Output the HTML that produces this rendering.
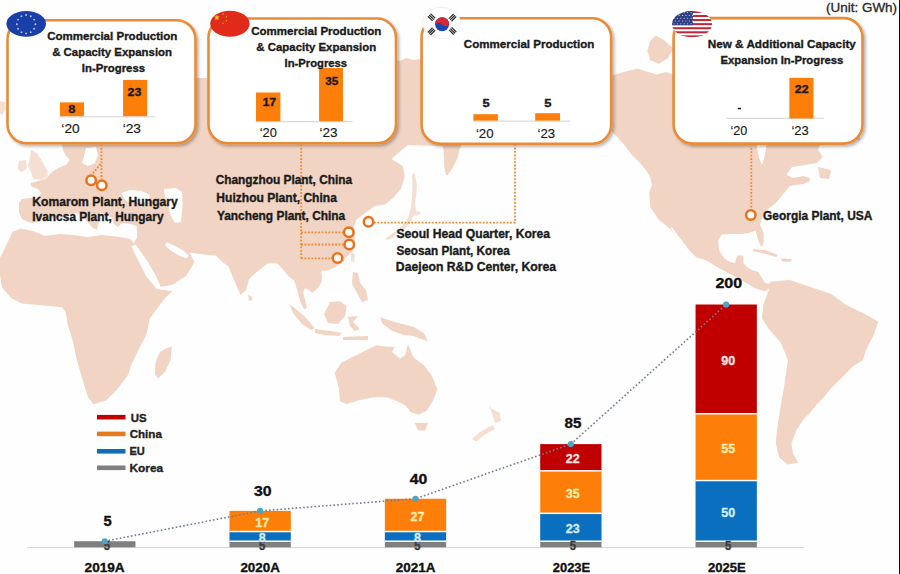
<!DOCTYPE html>
<html><head><meta charset="utf-8"><style>
html,body{margin:0;padding:0;background:#fff;}
#w{position:relative;width:900px;height:574px;overflow:hidden;background:#fefefe;}
svg{position:absolute;left:0;top:0;font-family:"Liberation Sans",Arial,sans-serif;}
#edge{position:absolute;right:0;top:0;width:1px;height:574px;background:#111;}
</style></head><body><div id="w">
<svg width="900" height="574" viewBox="0 0 900 574">
<defs><filter id="sh" x="-10%" y="-10%" width="125%" height="130%"><feGaussianBlur in="SourceAlpha" stdDeviation="1.6"/><feOffset dx="1.8" dy="1.8" result="b"/><feFlood flood-color="#000" flood-opacity="0.28"/><feComposite in2="b" operator="in"/><feMerge><feMergeNode/><feMergeNode in="SourceGraphic"/></feMerge></filter></defs>
<path d="M46.5,178 L52,172 L58,168 L66,165 L70,160 L66,156 L63,150 L62,143 L62,120 L196,120 L196,78 L208,78 L208,60 L396,60 L400,61 L406,58 L414,60 L421,59 L421,100 L470,100 L470,140 L462,140 L461,146 L459.3,150 L457.6,158 L452.6,168 L447.7,174.7 L446,175 L444.4,168 L443.5,150 L442.7,146 L408,145 L398,153 L391.5,159 L398,163 L403,166.4 L404.7,176.4 L401.4,188 L393,198 L384.8,204.5 L374.9,206 L363.1,214.4 L356.6,219.6 L354,226.1 L354.6,234 L355.3,243.1 L352.7,251 L346.1,257.5 L342.2,262.7 L335.7,266.7 L327.8,270.6 L321,271 L322,276 L321.7,282 L317,289 L312,293 L309,290 L305,288 L303,292 L305,300 L307,308 L304,309 L300.7,302.7 L297.6,291.7 L294.4,280.8 L288.2,276 L283.4,269.8 L277.2,263.5 L267.8,263.5 L261.5,268.2 L253.7,274.5 L249,279.2 L245.8,290.2 L240.5,295 L236.4,285.5 L231.7,274.5 L228.6,266.6 L222.3,262 L216,255.7 L200,254 L189.4,252.5 L194.6,262 L186,276 L172,285 L160,288 L157,285 L153.6,272.5 L147,262 L140,253 L135.3,247 L133,244 L137,238 L137,226 L130,224 L122,223 L118,227 L114,224 L112,218 L106,215 L104,214 L100,212 L99,222 L97,230 L93,228 L86,220 L80,214 L75,213 L70,215 L62,218 L55,217 L50,219 L45,219 L40,221 L34,223 L28,222 L22,219 L19,212 L19,203 L22,199 L30,198 L38,199 L41,193 L38,189 L31,186 L31,183 L38,181 L44,179.5Z M12.5,232 L21,228.5 L33,231 L45,236 L60,234 L73,235 L88,237 L102,235 L120,237 L130,239 L133,242 L135,251 L146.3,276 L157.2,289 L165,290 L172.3,291.3 L166,297 L160.9,303.6 L149.9,318.2 L146.3,334.7 L138.9,349.3 L131.6,364 L128,374.9 L117,389.5 L106,400.5 L93.2,404.2 L87.8,396.8 L82.3,378.6 L76.8,360.3 L73.1,342 L67.6,323.7 L65.8,312.8 L62.2,307.3 L43.9,305.4 L21.9,303.6 L11,298.1 L1.8,287.2 L-2,261.6 L3.7,250.6Z M612,75.6 L623.8,72 L638,68.5 L645,71 L656.8,74.4 L666,72 L673,74.4 L680,70 L860,70 L860,140 L820,145 L818,150 L822.8,156.5 L817,163 L805,165 L792,167 L786.4,174.7 L793,178 L803,176 L810,178 L809.5,181.4 L803,184 L789.7,186 L781.4,196.3 L776,203 L768,209 L763.2,214.5 L760,224.4 L763.7,233.5 L763.5,242 L762.2,246.9 L759.5,244 L757,236 L755.9,230.4 L748,233 L741,234 L730,234 L722,234.5 L718.2,240 L719,250 L724,258 L729.2,261.8 L735,263 L737,255.5 L743.3,255.5 L743.3,263.3 L748,268 L752,270 L758,272 L762,278 L765,283 L770,283.7 L771,287 L765.3,291.6 L755.9,288.4 L744.9,282.2 L733.9,275.9 L721.4,269.6 L705.7,260.2 L696.2,257.2 L690,251 L687.9,248.8 L679.5,238.3 L669,227.9 L658.6,219.5 L650.2,207 L649.2,192.3 L652,185 L650.2,177.2 L646,170 L638.7,161.6 L631.3,154.3 L625.1,145.9 L617.8,137.5 L611.5,131.3 L605,120 L605,78Z M768.7,290.4 L770.5,281.7 L789.6,280 L810.5,287 L831.4,294 L845.3,304.4 L866.2,314.8 L878.4,321.8 L873.2,335.7 L866.2,349.6 L862.8,360.1 L852.3,367 L841.9,377.5 L831.4,387.9 L822.7,398.4 L817.5,403.6 L810.5,412.3 L803.6,419.3 L796.6,429.7 L791.4,443.6 L793.1,454.1 L798.3,462.8 L787.9,464.5 L779.2,457.6 L775.7,443.6 L777.5,426.2 L780.9,405.3 L784.4,384.5 L787.9,360.1 L780.9,342.7 L768.7,328.7 L761.8,318.3 L763.5,304.4Z M336,370.7 L341.3,362.7 L357.3,354.7 L365.3,350.7 L376,345.3 L386.7,346.7 L394.7,346.7 L392,352 L400,358.7 L405.3,354.7 L408,344 L413.3,357.3 L424,365.3 L432,376 L437.3,389.3 L433.3,400 L426.7,410.7 L418.7,414.7 L410.7,412 L405.3,405.3 L397.3,401.3 L386.7,397.3 L373.3,397.3 L360,400 L346.7,404 L340,401.3 L338.7,386.7 L334.7,373.3Z" fill="#f1d4c3"/>
<path d="M121,193 L130,190 L142,191 L150,195 L148,202 L138,203 L126,201Z M164,189 L176,188 L182,192 L182.5,205 L181,222 L175,223 L170,214 L168,204 L165,197Z M166.7,242.3 L175,246 L184,251 L189,256 L186,258.5 L178,255 L170,250 L165,245Z M131.5,246 L136,245 L148,262 L156,276 L161,287.5 L157,289 L146,276 L134,252Z M157,287.5 L172,285 L176,289 L172,290.5 L160,289.5Z M86,148 L96,147 L98,155 L95,163 L88,166 L82,163 L84,156Z M756.6,145 L766.5,145 L765,155 L762,165 L759,158Z M670.5,228 L672,227.5 L687,247.5 L686,248.5Z" fill="#fff"/>
<path d="M172,346.5 L170.5,360 L165,372 L158,378.5 L155,374 L155.5,362 L160,352 L167,348Z M248,295 L252,297 L252.6,300 L249,301Z M353,272 L358,273 L360,283 L366,290 L368,300 L362,302 L357,293 L352,284Z M330,302 L340,301.3 L346.7,306 L345,316 L338,324 L328,323 L324,314Z M289.3,304 L296,309 L305,317 L314.7,328 L311,330 L302,324 L293,313Z M314.7,329 L330,331 L341.7,333 L339,336 L325,335 L315,333Z M348,317 L358,316 L353,322 L360,329 L355,331 L350,326Z M343,337 L368,336 L368,340 L343,340Z M380,317.3 L397.3,322.7 L413.3,326.7 L424,333.3 L428,341.3 L413.3,336 L402.7,334.7 L392,330.7 L382.7,324Z M414.7,423 L428,422.7 L425,430.7 L418,430Z M655.6,35.6 L664,40 L673.2,48.5 L668,58 L659,63.8 L650,60 L647.4,50.9 L650,41Z M818,167 L831,170 L829,179 L820,178Z M752.7,249.2 L765,250 L777.8,255 L776,257 L764,253.5 L753,251Z M781,258.6 L792,259 L791,261.8 L782,261.5Z" fill="#f1d4c3"/>
<path d="M31,150 L37,153 L42,161 L47,170 L48,176 L42,180 L33,179 L31,172 L28,166 L30,158Z M19,161 L26,160 L27,168 L22,172.5 L17.5,169Z M0,101 L5,102 L5.5,110 L2,115 L0,114Z M412,174 L415,174 L417,186 L416,197 L415,203 L416,211 L421,212 L419,215 L413,216 L411,222 L405,228 L398,233 L392,238 L387,240.5 L386,238 L392,234 L399,229 L405,223 L409,216 L411,207 L412,198 L412.5,186Z M488.8,405.6 L492,409 L499.8,413 L501,421 L495,423 L493.7,418 L491,411Z M492.4,425 L495,428.8 L486,434 L476,441.5 L472,439 L480,432Z M351,253 L354.5,253 L354.5,262 L351,261Z" fill="#f1d4c3" opacity="0.75"/>
<rect x="7.5" y="20.2" width="188" height="123.1" rx="19" ry="19" fill="#fff" stroke="#e98c38" stroke-width="2.6" filter="url(#sh)"/>
<rect x="208.5" y="18.5" width="187.5" height="124.8" rx="19" ry="19" fill="#fff" stroke="#e98c38" stroke-width="2.6" filter="url(#sh)"/>
<rect x="421.6" y="18.2" width="189.6" height="125.6" rx="19" ry="19" fill="#fff" stroke="#e98c38" stroke-width="2.6" filter="url(#sh)"/>
<rect x="673.6" y="18.1" width="188.9" height="125.5" rx="19" ry="19" fill="#fff" stroke="#e98c38" stroke-width="2.6" filter="url(#sh)"/>
<ellipse cx="26.2" cy="23.8" rx="19.8" ry="12.9" fill="#1a3fa8"/>
<circle cx="26.1" cy="15" r="0.95" fill="#b8c8f0"/>
<circle cx="30.75" cy="16.23" r="0.95" fill="#b8c8f0"/>
<circle cx="34.15" cy="19.6" r="0.95" fill="#b8c8f0"/>
<circle cx="35.4" cy="24.2" r="0.95" fill="#b8c8f0"/>
<circle cx="34.15" cy="28.8" r="0.95" fill="#b8c8f0"/>
<circle cx="30.75" cy="32.17" r="0.95" fill="#b8c8f0"/>
<circle cx="26.1" cy="33.4" r="0.95" fill="#b8c8f0"/>
<circle cx="21.45" cy="32.17" r="0.95" fill="#b8c8f0"/>
<circle cx="18.05" cy="28.8" r="0.95" fill="#b8c8f0"/>
<circle cx="16.8" cy="24.2" r="0.95" fill="#b8c8f0"/>
<circle cx="18.05" cy="19.6" r="0.95" fill="#b8c8f0"/>
<circle cx="21.45" cy="16.23" r="0.95" fill="#b8c8f0"/>
<ellipse cx="229.9" cy="23.8" rx="19.7" ry="13" fill="#e02a1a"/>
<path d="M216.9,14.4 L217.65,16.56 L219.94,16.61 L218.12,18 L218.78,20.19 L216.9,18.88 L215.02,20.19 L215.68,18 L213.86,16.61 L216.15,16.56Z M223,12.9 L223.26,13.64 L224.05,13.66 L223.42,14.14 L223.65,14.89 L223,14.44 L222.35,14.89 L222.58,14.14 L221.95,13.66 L222.74,13.64Z M226.4,15.7 L226.66,16.44 L227.45,16.46 L226.82,16.94 L227.05,17.69 L226.4,17.24 L225.75,17.69 L225.98,16.94 L225.35,16.46 L226.14,16.44Z M226.4,19.5 L226.66,20.24 L227.45,20.26 L226.82,20.74 L227.05,21.49 L226.4,21.04 L225.75,21.49 L225.98,20.74 L225.35,20.26 L226.14,20.24Z M223,22.3 L223.26,23.04 L224.05,23.06 L223.42,23.54 L223.65,24.29 L223,23.84 L222.35,24.29 L222.58,23.54 L221.95,23.06 L222.74,23.04Z" fill="#f6c81e"/>
<ellipse cx="441.5" cy="23" rx="19" ry="15.6" fill="#fff"/>
<circle cx="442.1" cy="24.3" r="7" fill="#1f48a8"/>
<path d="M435.1,24.3 A7,7 0 0 1 449.1,24.3 A3.5,1.6 0 0 1 442.1,24.3 A3.5,1.6 0 0 0 435.1,24.3Z" fill="#d42a3c"/>
<ellipse cx="441.5" cy="23" rx="19" ry="15.6" fill="none" stroke="#e4e4e4" stroke-width="0.6"/>
<g transform="rotate(45 431.5 17.3)"><rect x="428.2" y="14.8" width="6.6" height="1.3" fill="#2f342f"/><rect x="428.2" y="16.6" width="6.6" height="1.3" fill="#2f342f"/><rect x="428.2" y="18.4" width="6.6" height="1.3" fill="#2f342f"/></g>
<g transform="rotate(-45 452.6 17.6)"><rect x="449.3" y="15.1" width="6.6" height="1.3" fill="#2f342f"/><rect x="449.3" y="16.9" width="6.6" height="1.3" fill="#2f342f"/><rect x="449.3" y="18.7" width="6.6" height="1.3" fill="#2f342f"/></g>
<g transform="rotate(-45 431.5 31.4)"><rect x="428.2" y="28.9" width="6.6" height="1.3" fill="#2f342f"/><rect x="428.2" y="30.7" width="6.6" height="1.3" fill="#2f342f"/><rect x="428.2" y="32.5" width="6.6" height="1.3" fill="#2f342f"/></g>
<g transform="rotate(45 452.6 31)"><rect x="449.3" y="28.5" width="6.6" height="1.3" fill="#2f342f"/><rect x="449.3" y="30.3" width="6.6" height="1.3" fill="#2f342f"/><rect x="449.3" y="32.1" width="6.6" height="1.3" fill="#2f342f"/></g>
<clipPath id="usclip"><ellipse cx="692.1" cy="24.1" rx="20" ry="13.2"/></clipPath>
<g clip-path="url(#usclip)"><rect x="672" y="10.9" width="41" height="26.5" fill="#fff"/><rect x="672" y="10.9" width="41" height="2.04" fill="#c0283a"/><rect x="672" y="14.98" width="41" height="2.04" fill="#c0283a"/><rect x="672" y="19.05" width="41" height="2.04" fill="#c0283a"/><rect x="672" y="23.13" width="41" height="2.04" fill="#c0283a"/><rect x="672" y="27.21" width="41" height="2.04" fill="#c0283a"/><rect x="672" y="31.28" width="41" height="2.04" fill="#c0283a"/><rect x="672" y="35.36" width="41" height="2.04" fill="#c0283a"/><rect x="672" y="10.9" width="20.8" height="14.3" fill="#2e3f86"/><circle cx="674" cy="12.6" r="0.55" fill="#dfe3f2"/><circle cx="677.4" cy="12.6" r="0.55" fill="#dfe3f2"/><circle cx="680.8" cy="12.6" r="0.55" fill="#dfe3f2"/><circle cx="684.2" cy="12.6" r="0.55" fill="#dfe3f2"/><circle cx="687.6" cy="12.6" r="0.55" fill="#dfe3f2"/><circle cx="691" cy="12.6" r="0.55" fill="#dfe3f2"/><circle cx="675.7" cy="15.4" r="0.55" fill="#dfe3f2"/><circle cx="679.1" cy="15.4" r="0.55" fill="#dfe3f2"/><circle cx="682.5" cy="15.4" r="0.55" fill="#dfe3f2"/><circle cx="685.9" cy="15.4" r="0.55" fill="#dfe3f2"/><circle cx="689.3" cy="15.4" r="0.55" fill="#dfe3f2"/><circle cx="692.7" cy="15.4" r="0.55" fill="#dfe3f2"/><circle cx="674" cy="18.2" r="0.55" fill="#dfe3f2"/><circle cx="677.4" cy="18.2" r="0.55" fill="#dfe3f2"/><circle cx="680.8" cy="18.2" r="0.55" fill="#dfe3f2"/><circle cx="684.2" cy="18.2" r="0.55" fill="#dfe3f2"/><circle cx="687.6" cy="18.2" r="0.55" fill="#dfe3f2"/><circle cx="691" cy="18.2" r="0.55" fill="#dfe3f2"/><circle cx="675.7" cy="21" r="0.55" fill="#dfe3f2"/><circle cx="679.1" cy="21" r="0.55" fill="#dfe3f2"/><circle cx="682.5" cy="21" r="0.55" fill="#dfe3f2"/><circle cx="685.9" cy="21" r="0.55" fill="#dfe3f2"/><circle cx="689.3" cy="21" r="0.55" fill="#dfe3f2"/><circle cx="692.7" cy="21" r="0.55" fill="#dfe3f2"/><circle cx="674" cy="23.8" r="0.55" fill="#dfe3f2"/><circle cx="677.4" cy="23.8" r="0.55" fill="#dfe3f2"/><circle cx="680.8" cy="23.8" r="0.55" fill="#dfe3f2"/><circle cx="684.2" cy="23.8" r="0.55" fill="#dfe3f2"/><circle cx="687.6" cy="23.8" r="0.55" fill="#dfe3f2"/><circle cx="691" cy="23.8" r="0.55" fill="#dfe3f2"/></g>
<rect x="60" y="116.2" width="95" height="1.2" fill="#d9d9d9"/>
<rect x="256" y="121.1" width="96.6" height="1.2" fill="#d9d9d9"/>
<rect x="473" y="120.5" width="97" height="1.2" fill="#d9d9d9"/>
<rect x="726.7" y="117.7" width="97.2" height="1.2" fill="#d9d9d9"/>
<rect x="60" y="102.4" width="24" height="13.8" fill="#fd7e08"/>
<rect x="123.1" y="79.9" width="24.1" height="36.3" fill="#fd7e08"/>
<rect x="256" y="92.5" width="24.4" height="28.7" fill="#fd7e08"/>
<rect x="319.1" y="68" width="23.9" height="53.2" fill="#fd7e08"/>
<rect x="473.4" y="114.2" width="24.5" height="6.4" fill="#fd7e08"/>
<rect x="535.2" y="113.2" width="24.8" height="7.4" fill="#fd7e08"/>
<rect x="789.4" y="77.9" width="24.1" height="40.6" fill="#fd7e08"/>
<rect x="737.7" y="107.8" width="3.3" height="1.5" fill="#1a1a1a"/>
<line x1="101.5" y1="144.5" x2="101.5" y2="179" stroke="#ee8a30" stroke-width="1.8" stroke-dasharray="1.8 1.6"/>
<line x1="100.5" y1="164" x2="92" y2="174.5" stroke="#ee8a30" stroke-width="1.8" stroke-dasharray="1.8 1.6"/>
<line x1="301.2" y1="144.5" x2="301.2" y2="258.3" stroke="#ee8a30" stroke-width="1.8" stroke-dasharray="1.8 1.6"/>
<line x1="301.2" y1="232.3" x2="343.5" y2="232.3" stroke="#ee8a30" stroke-width="1.8" stroke-dasharray="1.8 1.6"/>
<line x1="301.2" y1="244.5" x2="344" y2="244.5" stroke="#ee8a30" stroke-width="1.8" stroke-dasharray="1.8 1.6"/>
<line x1="301.2" y1="258.3" x2="332" y2="258.3" stroke="#ee8a30" stroke-width="1.8" stroke-dasharray="1.8 1.6"/>
<path d="M374,222.6 L515,222.6 L515,144.5" fill="none" stroke="#ee8a30" stroke-width="1.8" stroke-dasharray="1.8 1.6"/>
<line x1="751.3" y1="144.5" x2="751.3" y2="209" stroke="#ee8a30" stroke-width="1.8" stroke-dasharray="1.8 1.6"/>
<circle cx="91.1" cy="180.3" r="4.75" fill="#fff" stroke="#e8731c" stroke-width="2.5"/>
<circle cx="101.8" cy="185.3" r="4.75" fill="#fff" stroke="#e8731c" stroke-width="2.5"/>
<circle cx="348.8" cy="232.3" r="4.75" fill="#fff" stroke="#e8731c" stroke-width="2.5"/>
<circle cx="349.3" cy="244.5" r="4.75" fill="#fff" stroke="#e8731c" stroke-width="2.5"/>
<circle cx="337.5" cy="258.1" r="4.75" fill="#fff" stroke="#e8731c" stroke-width="2.5"/>
<circle cx="368.5" cy="221.7" r="4.75" fill="#fff" stroke="#e8731c" stroke-width="2.5"/>
<circle cx="750.8" cy="215" r="4.75" fill="#fff" stroke="#e8731c" stroke-width="2.5"/>
<rect x="27" y="547" width="777.3" height="1.1" fill="#d9d9d9"/>
<rect x="74.15" y="541.23" width="61.3" height="6.07" fill="#7f7f7f"/>
<rect x="229.5" y="541.23" width="61.3" height="6.07" fill="#7f7f7f"/>
<rect x="229.5" y="531.52" width="61.3" height="9.71" fill="#0b6fc0"/>
<rect x="229.5" y="540.48" width="61.3" height="1.5" fill="#fff"/>
<rect x="229.5" y="510.88" width="61.3" height="20.64" fill="#fd7e08"/>
<rect x="229.5" y="530.77" width="61.3" height="1.5" fill="#fff"/>
<rect x="384.85" y="541.23" width="61.3" height="6.07" fill="#7f7f7f"/>
<rect x="384.85" y="531.52" width="61.3" height="9.71" fill="#0b6fc0"/>
<rect x="384.85" y="540.48" width="61.3" height="1.5" fill="#fff"/>
<rect x="384.85" y="498.74" width="61.3" height="32.78" fill="#fd7e08"/>
<rect x="384.85" y="530.77" width="61.3" height="1.5" fill="#fff"/>
<rect x="540.2" y="541.23" width="61.3" height="6.07" fill="#7f7f7f"/>
<rect x="540.2" y="513.31" width="61.3" height="27.92" fill="#0b6fc0"/>
<rect x="540.2" y="540.48" width="61.3" height="1.5" fill="#fff"/>
<rect x="540.2" y="470.82" width="61.3" height="42.49" fill="#fd7e08"/>
<rect x="540.2" y="512.56" width="61.3" height="1.5" fill="#fff"/>
<rect x="540.2" y="444.11" width="61.3" height="26.71" fill="#c00000"/>
<rect x="540.2" y="470.07" width="61.3" height="1.5" fill="#fff"/>
<rect x="695.55" y="541.23" width="61.3" height="6.07" fill="#7f7f7f"/>
<rect x="695.55" y="480.53" width="61.3" height="60.7" fill="#0b6fc0"/>
<rect x="695.55" y="540.48" width="61.3" height="1.5" fill="#fff"/>
<rect x="695.55" y="413.76" width="61.3" height="66.77" fill="#fd7e08"/>
<rect x="695.55" y="479.78" width="61.3" height="1.5" fill="#fff"/>
<rect x="695.55" y="304.5" width="61.3" height="109.26" fill="#c00000"/>
<rect x="695.55" y="413.01" width="61.3" height="1.5" fill="#fff"/>
<text x="106.8" y="549.96" font-size="12" font-weight="bold" fill="#3a3a3a" stroke="#3a3a3a" stroke-width="0.3" text-anchor="middle" transform="translate(106.8,0) scale(0.95,1) translate(-106.8,0)">5</text>
<text x="262.15" y="549.96" font-size="12" font-weight="bold" fill="#3a3a3a" stroke="#3a3a3a" stroke-width="0.3" text-anchor="middle" transform="translate(262.15,0) scale(0.95,1) translate(-262.15,0)">5</text>
<text x="262.15" y="542.07" font-size="13.2" font-weight="bold" fill="#d8f0ff" stroke="#d8f0ff" stroke-width="0.3" text-anchor="middle" transform="translate(262.15,0) scale(0.95,1) translate(-262.15,0)">8</text>
<text x="262.15" y="526.9" font-size="13.2" font-weight="bold" fill="#ffeeb0" stroke="#ffeeb0" stroke-width="0.3" text-anchor="middle" transform="translate(262.15,0) scale(0.95,1) translate(-262.15,0)">17</text>
<text x="417.5" y="549.96" font-size="12" font-weight="bold" fill="#3a3a3a" stroke="#3a3a3a" stroke-width="0.3" text-anchor="middle" transform="translate(417.5,0) scale(0.95,1) translate(-417.5,0)">5</text>
<text x="417.5" y="542.07" font-size="13.2" font-weight="bold" fill="#d8f0ff" stroke="#d8f0ff" stroke-width="0.3" text-anchor="middle" transform="translate(417.5,0) scale(0.95,1) translate(-417.5,0)">8</text>
<text x="417.5" y="520.83" font-size="13.2" font-weight="bold" fill="#ffeeb0" stroke="#ffeeb0" stroke-width="0.3" text-anchor="middle" transform="translate(417.5,0) scale(0.95,1) translate(-417.5,0)">27</text>
<text x="572.85" y="549.96" font-size="12" font-weight="bold" fill="#3a3a3a" stroke="#3a3a3a" stroke-width="0.3" text-anchor="middle" transform="translate(572.85,0) scale(0.95,1) translate(-572.85,0)">5</text>
<text x="572.85" y="532.97" font-size="13.2" font-weight="bold" fill="#d8f0ff" stroke="#d8f0ff" stroke-width="0.3" text-anchor="middle" transform="translate(572.85,0) scale(0.95,1) translate(-572.85,0)">23</text>
<text x="572.85" y="497.76" font-size="13.2" font-weight="bold" fill="#ffeeb0" stroke="#ffeeb0" stroke-width="0.3" text-anchor="middle" transform="translate(572.85,0) scale(0.95,1) translate(-572.85,0)">35</text>
<text x="572.85" y="463.16" font-size="13.2" font-weight="bold" fill="#ffe6e6" stroke="#ffe6e6" stroke-width="0.3" text-anchor="middle" transform="translate(572.85,0) scale(0.95,1) translate(-572.85,0)">22</text>
<text x="728.2" y="549.96" font-size="12" font-weight="bold" fill="#3a3a3a" stroke="#3a3a3a" stroke-width="0.3" text-anchor="middle" transform="translate(728.2,0) scale(0.95,1) translate(-728.2,0)">5</text>
<text x="728.2" y="516.58" font-size="13.2" font-weight="bold" fill="#d8f0ff" stroke="#d8f0ff" stroke-width="0.3" text-anchor="middle" transform="translate(728.2,0) scale(0.95,1) translate(-728.2,0)">50</text>
<text x="728.2" y="452.84" font-size="13.2" font-weight="bold" fill="#ffeeb0" stroke="#ffeeb0" stroke-width="0.3" text-anchor="middle" transform="translate(728.2,0) scale(0.95,1) translate(-728.2,0)">55</text>
<text x="728.2" y="364.83" font-size="13.2" font-weight="bold" fill="#ffe6e6" stroke="#ffe6e6" stroke-width="0.3" text-anchor="middle" transform="translate(728.2,0) scale(0.95,1) translate(-728.2,0)">90</text>
<polyline points="104.8,541.23 260.15,510.88 415.5,498.74 570.85,444.11 726.2,304.5" fill="none" stroke="#6e7c90" stroke-width="1.6" stroke-dasharray="1.6 2.2"/>
<circle cx="104.8" cy="541.23" r="3.1" fill="#4aa6c4"/>
<circle cx="260.15" cy="510.88" r="3.1" fill="#4aa6c4"/>
<circle cx="415.5" cy="498.74" r="3.1" fill="#4aa6c4"/>
<circle cx="570.85" cy="444.11" r="3.1" fill="#4aa6c4"/>
<circle cx="726.2" cy="304.5" r="3.1" fill="#4aa6c4"/>
<rect x="97" y="414.9" width="28.5" height="4.6" fill="#c00000"/>
<rect x="97" y="431.6" width="28.5" height="4.6" fill="#e87a1e"/>
<rect x="97" y="449" width="28.5" height="4.6" fill="#0b6fc0"/>
<rect x="97" y="465.5" width="28.5" height="4.6" fill="#7f7f7f"/>
<text font-size="11.66" font-weight="bold" fill="#1a1a1a" stroke="#1a1a1a" stroke-width="0.35" transform="translate(47.14,40.2) scale(0.9914,1)">Commercial Production</text>
<text font-size="11.66" font-weight="bold" fill="#1a1a1a" stroke="#1a1a1a" stroke-width="0.35" transform="translate(52.14,56.2) scale(0.9806,1)">&amp; Capacity Expansion</text>
<text font-size="11.66" font-weight="bold" fill="#1a1a1a" stroke="#1a1a1a" stroke-width="0.35" transform="translate(81.79,72.2) scale(0.9779,1)">In-Progress</text>
<text font-size="11.66" font-weight="bold" fill="#1a1a1a" stroke="#1a1a1a" stroke-width="0.35" transform="translate(251.14,34.6) scale(0.9899,1)">Commercial Production</text>
<text font-size="11.66" font-weight="bold" fill="#1a1a1a" stroke="#1a1a1a" stroke-width="0.35" transform="translate(256.34,50.6) scale(0.9798,1)">&amp; Capacity Expansion</text>
<text font-size="11.66" font-weight="bold" fill="#1a1a1a" stroke="#1a1a1a" stroke-width="0.35" transform="translate(284.6,66.6) scale(0.9653,1)">In-Progress</text>
<text font-size="11.66" font-weight="bold" fill="#1a1a1a" stroke="#1a1a1a" stroke-width="0.35" transform="translate(463.84,47.5) scale(0.9922,1)">Commercial Production</text>
<text font-size="11.66" font-weight="bold" fill="#1a1a1a" stroke="#1a1a1a" stroke-width="0.35" transform="translate(707.77,47.9) scale(1.0055,1)">New &amp; Additional Capacity</text>
<text font-size="11.66" font-weight="bold" fill="#1a1a1a" stroke="#1a1a1a" stroke-width="0.35" transform="translate(720.49,63.6) scale(0.9681,1)">Expansion In-Progress</text>
<text font-size="11.8" font-weight="bold" fill="#1a1a1a" stroke="#1a1a1a" stroke-width="0.35" transform="translate(68.2,112.5) scale(1.0843,1)">8</text>
<text font-size="11.8" font-weight="bold" fill="#1a1a1a" stroke="#1a1a1a" stroke-width="0.35" transform="translate(127.51,95.8) scale(1.0507,1)">23</text>
<text font-size="11.8" font-weight="bold" fill="#1a1a1a" stroke="#1a1a1a" stroke-width="0.35" transform="translate(262.42,106.4) scale(1.0576,1)">17</text>
<text font-size="11.8" font-weight="bold" fill="#1a1a1a" stroke="#1a1a1a" stroke-width="0.35" transform="translate(325.22,85.2) scale(0.9959,1)">35</text>
<text font-size="11.8" font-weight="bold" fill="#1a1a1a" stroke="#1a1a1a" stroke-width="0.35" transform="translate(482.4,107.4) scale(1.1008,1)">5</text>
<text font-size="11.8" font-weight="bold" fill="#1a1a1a" stroke="#1a1a1a" stroke-width="0.35" transform="translate(544.2,107.1) scale(1.1008,1)">5</text>
<text font-size="11.8" font-weight="bold" fill="#1a1a1a" stroke="#1a1a1a" stroke-width="0.35" transform="translate(794.81,92.6) scale(1.0507,1)">22</text>
<text font-size="12.66" font-weight="normal" fill="#1a1a1a" stroke="#1a1a1a" stroke-width="0.15" transform="translate(61.36,133.1) scale(1.0824,1)">‘20</text>
<text font-size="12.66" font-weight="normal" fill="#1a1a1a" stroke="#1a1a1a" stroke-width="0.15" transform="translate(122.65,133.1) scale(1.0896,1)">‘23</text>
<text font-size="12.66" font-weight="normal" fill="#1a1a1a" stroke="#1a1a1a" stroke-width="0.15" transform="translate(259.7,136.8) scale(1.0136,1)">‘20</text>
<text font-size="12.66" font-weight="normal" fill="#1a1a1a" stroke="#1a1a1a" stroke-width="0.15" transform="translate(319.56,136.8) scale(1.0706,1)">‘23</text>
<text font-size="12.66" font-weight="normal" fill="#1a1a1a" stroke="#1a1a1a" stroke-width="0.15" transform="translate(475.88,138.3) scale(1.0511,1)">‘20</text>
<text font-size="12.66" font-weight="normal" fill="#1a1a1a" stroke="#1a1a1a" stroke-width="0.15" transform="translate(537.58,138.3) scale(1.0453,1)">‘23</text>
<text font-size="12.66" font-weight="normal" fill="#1a1a1a" stroke="#1a1a1a" stroke-width="0.15" transform="translate(730.41,135.4) scale(0.9948,1)">‘20</text>
<text font-size="12.66" font-weight="normal" fill="#1a1a1a" stroke="#1a1a1a" stroke-width="0.15" transform="translate(791.49,135.4) scale(1.0263,1)">‘23</text>
<text font-size="11.95" font-weight="bold" fill="#1a1a1a" stroke="#1a1a1a" stroke-width="0.35" transform="translate(32.24,205.6) scale(1.0160,1)">Komarom Plant, Hungary</text>
<text font-size="11.95" font-weight="bold" fill="#1a1a1a" stroke="#1a1a1a" stroke-width="0.35" transform="translate(32.25,221) scale(0.9986,1)">Ivancsa Plant, Hungary</text>
<text font-size="11.95" font-weight="bold" fill="#1a1a1a" stroke="#1a1a1a" stroke-width="0.35" transform="translate(215.63,183.7) scale(0.9936,1)">Changzhou Plant, China</text>
<text font-size="11.95" font-weight="bold" fill="#1a1a1a" stroke="#1a1a1a" stroke-width="0.35" transform="translate(216.35,201.6) scale(1.0085,1)">Huizhou Plant, China</text>
<text font-size="11.95" font-weight="bold" fill="#1a1a1a" stroke="#1a1a1a" stroke-width="0.35" transform="translate(216.91,219.5) scale(0.9971,1)">Yancheng Plant, China</text>
<text font-size="11.95" font-weight="bold" fill="#1a1a1a" stroke="#1a1a1a" stroke-width="0.35" transform="translate(396.41,238.3) scale(1.0154,1)">Seoul Head Quarter, Korea</text>
<text font-size="11.95" font-weight="bold" fill="#1a1a1a" stroke="#1a1a1a" stroke-width="0.35" transform="translate(396.42,254.6) scale(0.9826,1)">Seosan Plant, Korea</text>
<text font-size="11.95" font-weight="bold" fill="#1a1a1a" stroke="#1a1a1a" stroke-width="0.35" transform="translate(395.84,271.2) scale(1.0237,1)">Daejeon R&amp;D Center, Korea</text>
<text font-size="11.95" font-weight="bold" fill="#1a1a1a" stroke="#1a1a1a" stroke-width="0.35" transform="translate(763.03,220) scale(0.9988,1)">Georgia Plant, USA</text>
<text font-size="14.22" font-weight="bold" fill="#111" stroke="#111" stroke-width="0.35" transform="translate(103.47,525.8) scale(1.0364,1)">5</text>
<text font-size="14.51" font-weight="bold" fill="#111" stroke="#111" stroke-width="0.35" transform="translate(254.05,496.3) scale(1.0900,1)">30</text>
<text font-size="14.22" font-weight="bold" fill="#111" stroke="#111" stroke-width="0.35" transform="translate(409.7,484) scale(1.1087,1)">40</text>
<text font-size="14.51" font-weight="bold" fill="#111" stroke="#111" stroke-width="0.35" transform="translate(564.53,428.3) scale(1.0443,1)">85</text>
<text font-size="14.79" font-weight="bold" fill="#111" stroke="#111" stroke-width="0.35" transform="translate(715.5,288.3) scale(1.0797,1)">200</text>
<text font-size="13.08" font-weight="bold" fill="#111" stroke="#111" stroke-width="0.35" transform="translate(84.57,571.7) scale(1.0422,1)">2019A</text>
<text font-size="13.08" font-weight="bold" fill="#111" stroke="#111" stroke-width="0.35" transform="translate(240.38,571.9) scale(1.0264,1)">2020A</text>
<text font-size="13.08" font-weight="bold" fill="#111" stroke="#111" stroke-width="0.35" transform="translate(395.78,571.6) scale(1.0264,1)">2021A</text>
<text font-size="13.08" font-weight="bold" fill="#111" stroke="#111" stroke-width="0.35" transform="translate(552.8,571.8) scale(0.9870,1)">2023E</text>
<text font-size="13.08" font-weight="bold" fill="#111" stroke="#111" stroke-width="0.35" transform="translate(708.09,571.9) scale(0.9978,1)">2025E</text>
<text font-size="11.66" font-weight="bold" fill="#222" stroke="#222" stroke-width="0.35" transform="translate(130.66,421.5) scale(0.9839,1)">US</text>
<text font-size="11.66" font-weight="bold" fill="#222" stroke="#222" stroke-width="0.35" transform="translate(129.64,437.9) scale(0.9967,1)">China</text>
<text font-size="11.66" font-weight="bold" fill="#222" stroke="#222" stroke-width="0.35" transform="translate(129.51,455.2) scale(0.9472,1)">EU</text>
<text font-size="11.66" font-weight="bold" fill="#222" stroke="#222" stroke-width="0.35" transform="translate(129.46,471.8) scale(1.0185,1)">Korea</text>
<text font-size="11.95" font-weight="normal" fill="#2a2a2a" stroke="#2a2a2a" stroke-width="0.3" transform="translate(826.07,12.4) scale(1.1265,1)">(Unit: GWh)</text>
</svg><div id="edge"></div></div></body></html>
